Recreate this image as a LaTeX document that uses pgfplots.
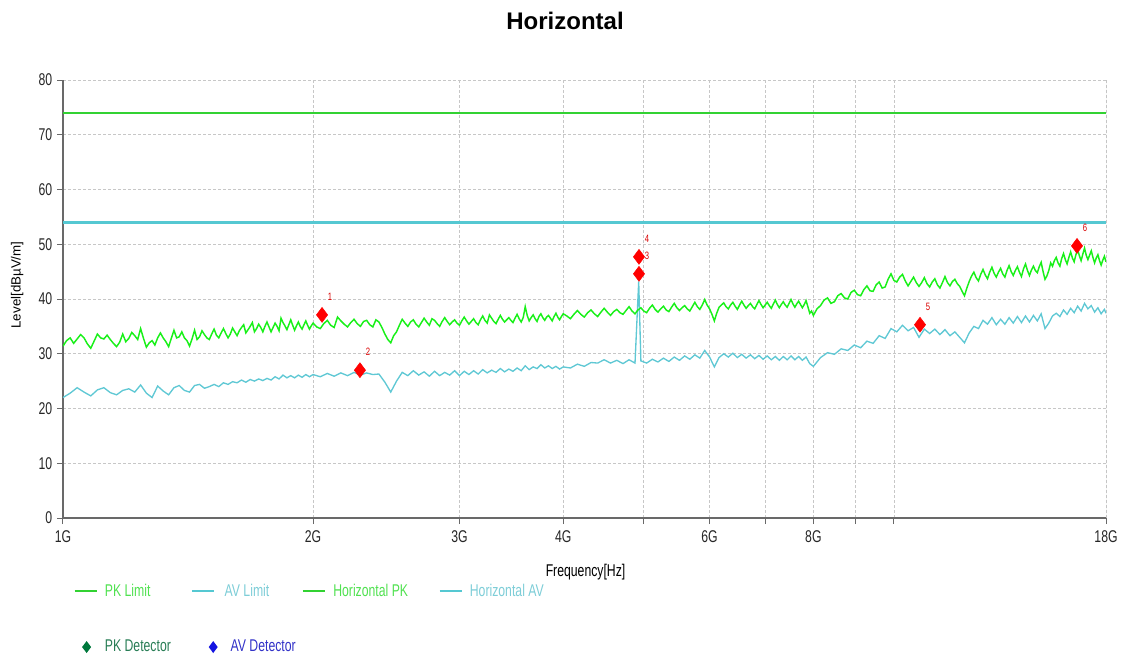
\documentclass[border=0pt]{standalone}
\usepackage{pgfplots}
\pgfplotsset{compat=1.18}
\usepackage{pgfplotstable}
\usepackage{fontspec}
\setmainfont{Liberation Sans}
\newfontfamily\narrow{Liberation Sans}[FakeStretch=0.72]
\definecolor{pklim}{RGB}{50,210,50}
\definecolor{avlim}{RGB}{85,200,210}
\definecolor{pktr}{RGB}{25,240,25}
\definecolor{avtr}{RGB}{95,200,212}
\definecolor{pktxt}{RGB}{80,225,80}
\definecolor{avtxt}{RGB}{125,205,215}
\definecolor{pkdet}{RGB}{0,120,60}
\definecolor{avdet}{RGB}{20,20,225}
\definecolor{pkdettxt}{RGB}{40,125,85}
\definecolor{avdettxt}{RGB}{50,50,200}
\definecolor{axgray}{RGB}{105,105,105}

\pgfplotstableread{
f v
1.00 31.4
1.01 32.4
1.02 32.9
1.03 31.9
1.04 32.7
1.05 33.5
1.06 32.9
1.07 31.8
1.08 31.0
1.09 32.3
1.10 33.6
1.11 32.9
1.12 32.7
1.13 33.4
1.14 32.6
1.15 31.9
1.16 31.3
1.17 32.1
1.18 33.6
1.19 32.2
1.20 32.8
1.21 33.9
1.22 33.3
1.23 32.6
1.24 34.6
1.25 32.8
1.26 31.2
1.27 32.0
1.28 32.4
1.29 31.6
1.30 32.9
1.31 33.8
1.32 32.9
1.33 32.2
1.34 31.3
1.35 32.8
1.36 34.3
1.37 32.9
1.38 33.1
1.39 34.0
1.40 32.9
1.41 32.4
1.42 31.4
1.43 32.7
1.44 34.3
1.45 32.6
1.46 33.1
1.47 34.2
1.48 33.5
1.49 32.9
1.50 32.6
1.51 33.6
1.52 34.5
1.53 33.4
1.54 32.9
1.55 33.8
1.56 34.6
1.57 33.7
1.58 32.9
1.59 33.6
1.60 34.7
1.61 34.0
1.62 33.3
1.63 34.2
1.64 34.8
1.65 35.3
1.66 33.8
1.67 34.4
1.68 35.0
1.69 35.7
1.70 34.0
1.71 34.6
1.72 35.4
1.73 34.8
1.74 34.0
1.75 35.0
1.76 35.8
1.77 34.9
1.78 34.0
1.79 34.8
1.80 35.6
1.81 35.0
1.82 34.2
1.83 36.5
1.84 35.7
1.85 35.1
1.86 34.4
1.87 35.3
1.88 36.2
1.89 35.2
1.90 34.3
1.91 35.1
1.92 35.8
1.93 35.0
1.94 34.5
1.95 35.3
1.96 36.0
1.97 35.2
1.98 34.5
1.99 35.1
2.00 35.6
2.02 34.9
2.04 34.6
2.06 35.5
2.08 36.1
2.10 35.2
2.12 34.8
2.14 36.7
2.16 36.0
2.18 35.4
2.20 34.9
2.22 35.7
2.24 36.3
2.26 35.5
2.28 35.0
2.30 35.9
2.32 36.1
2.34 35.3
2.36 34.9
2.38 36.2
2.40 35.8
2.42 34.8
2.44 33.6
2.46 32.6
2.48 32.0
2.50 33.3
2.52 34.0
2.54 35.2
2.56 36.3
2.58 35.6
2.60 35.0
2.62 35.8
2.64 36.2
2.66 35.4
2.68 34.9
2.70 35.7
2.72 36.5
2.74 35.8
2.76 35.2
2.78 36.4
2.80 36.1
2.82 35.5
2.84 35.0
2.86 35.9
2.88 36.6
2.90 35.9
2.92 35.3
2.94 35.8
2.96 36.2
2.98 35.6
3.00 35.2
3.02 36.0
3.04 36.7
3.06 36.0
3.08 35.4
3.10 35.9
3.12 36.4
3.14 35.7
3.16 35.3
3.18 36.2
3.20 36.9
3.22 36.1
3.24 35.6
3.26 37.1
3.28 36.5
3.30 35.9
3.32 35.5
3.34 36.3
3.36 37.0
3.38 36.3
3.40 35.8
3.42 36.2
3.44 36.6
3.46 36.1
3.48 35.7
3.50 36.5
3.52 37.2
3.54 36.4
3.56 35.8
3.58 36.6
3.60 38.6
3.62 37.0
3.64 36.0
3.66 36.6
3.68 37.1
3.70 36.4
3.72 35.9
3.74 36.8
3.76 37.3
3.78 36.6
3.80 36.1
3.82 36.7
3.84 37.0
3.86 36.5
3.88 36.0
3.90 36.8
3.92 37.4
3.94 36.7
3.96 36.2
3.98 36.8
4.00 37.3
4.04 36.9
4.08 36.4
4.12 37.2
4.16 37.9
4.20 37.2
4.24 36.7
4.28 37.5
4.32 38.0
4.36 37.3
4.40 36.8
4.44 37.6
4.48 38.3
4.52 37.6
4.56 37.0
4.60 37.7
4.64 38.1
4.68 37.5
4.72 37.2
4.76 37.9
4.80 38.6
4.84 37.8
4.88 37.3
4.92 38.0
4.96 38.4
5.00 37.8
5.04 37.5
5.08 38.3
5.12 38.9
5.16 38.1
5.20 37.6
5.24 38.2
5.28 38.7
5.32 38.0
5.36 37.7
5.40 38.5
5.44 39.2
5.48 38.4
5.52 37.9
5.56 38.4
5.60 38.8
5.64 38.2
5.68 37.8
5.72 38.6
5.76 39.4
5.80 38.6
5.84 38.1
5.88 38.9
5.92 39.9
5.96 38.9
6.00 38.2
6.04 37.2
6.08 36.0
6.12 37.4
6.16 38.5
6.20 38.9
6.24 39.3
6.28 38.6
6.32 38.2
6.36 38.9
6.40 39.4
6.44 38.7
6.48 38.1
6.52 38.9
6.56 39.6
6.60 38.9
6.64 38.3
6.68 38.8
6.72 39.2
6.76 38.6
6.80 38.2
6.84 39.0
6.88 39.7
6.92 39.0
6.96 38.4
7.00 38.9
7.04 39.4
7.08 38.8
7.12 38.3
7.16 39.1
7.20 39.8
7.24 39.0
7.28 38.4
7.32 39.0
7.36 39.5
7.40 38.9
7.44 38.5
7.48 39.2
7.52 39.9
7.56 39.1
7.60 38.5
7.64 39.1
7.68 39.6
7.72 39.0
7.76 38.4
7.80 39.0
7.84 39.7
7.88 38.6
7.92 37.4
7.96 37.8
8.00 37.0
8.08 38.2
8.16 38.8
8.24 39.8
8.32 40.2
8.40 39.2
8.48 39.5
8.56 40.6
8.64 41.0
8.72 40.2
8.80 40.0
8.88 41.2
8.96 41.6
9.04 40.8
9.12 40.6
9.20 41.7
9.28 42.4
9.36 41.5
9.44 41.4
9.52 42.6
9.60 43.1
9.68 42.0
9.76 42.2
9.84 43.6
9.92 44.6
10.00 43.4
10.08 43.1
10.16 44.0
10.24 44.5
10.32 43.3
10.40 42.4
10.48 43.2
10.56 44.0
10.64 43.0
10.72 42.3
10.80 43.0
10.88 43.9
10.96 42.8
11.04 42.2
11.12 43.1
11.20 43.7
11.28 42.6
11.36 42.0
11.44 43.0
11.52 44.1
11.60 43.0
11.68 42.4
11.76 43.2
11.84 43.6
11.92 42.8
12.00 42.3
12.08 41.4
12.16 40.6
12.24 42.0
12.32 43.2
12.40 44.2
12.48 44.9
12.56 43.9
12.64 43.3
12.72 44.5
12.80 45.4
12.88 44.4
12.96 43.7
13.04 44.9
13.12 45.8
13.20 44.7
13.28 44.0
13.36 44.9
13.44 45.6
13.52 44.6
13.60 44.0
13.68 45.2
13.76 46.1
13.84 45.0
13.92 44.3
14.00 45.2
14.08 45.9
14.16 44.9
14.24 44.1
14.32 45.5
14.40 46.4
14.48 45.2
14.56 44.3
14.64 45.3
14.72 46.0
14.80 45.2
14.88 44.8
14.96 45.9
15.04 46.7
15.12 45.0
15.20 43.6
15.28 44.2
15.36 45.2
15.44 46.6
15.52 46.0
15.60 47.0
15.68 47.6
15.76 46.6
15.84 46.0
15.92 47.4
16.00 48.3
16.08 47.2
16.16 46.4
16.24 47.6
16.32 48.6
16.40 47.5
16.48 46.8
16.56 48.1
16.64 49.0
16.72 47.9
16.80 47.0
16.88 48.2
16.96 49.3
17.04 48.0
17.12 47.2
17.20 48.0
17.28 48.8
17.36 47.6
17.44 46.6
17.52 47.5
17.60 48.1
17.68 47.0
17.76 46.2
17.84 47.1
17.92 47.8
18.00 46.8
}\pktable

\pgfplotstableread{
f v
1.00 22.0
1.02 22.8
1.04 23.8
1.06 23.0
1.08 22.3
1.10 23.4
1.12 23.8
1.14 22.9
1.16 22.5
1.18 23.3
1.20 23.6
1.22 23.0
1.24 24.3
1.26 22.8
1.28 22.0
1.30 24.1
1.32 23.2
1.34 22.5
1.36 23.8
1.38 24.2
1.40 23.3
1.42 23.0
1.44 24.2
1.46 24.4
1.48 23.7
1.50 24.0
1.52 24.4
1.54 24.0
1.56 24.7
1.58 24.4
1.60 24.9
1.62 24.7
1.64 25.2
1.66 24.8
1.68 25.3
1.70 25.0
1.72 25.4
1.74 25.1
1.76 25.5
1.78 25.2
1.80 25.8
1.82 25.4
1.84 26.1
1.86 25.6
1.88 26.0
1.90 25.6
1.92 26.1
1.94 25.7
1.96 26.2
1.98 25.8
2.00 26.2
2.04 25.8
2.08 26.4
2.12 25.9
2.16 26.5
2.20 26.0
2.24 26.6
2.28 26.1
2.32 26.5
2.36 26.2
2.40 26.3
2.44 24.8
2.48 23.0
2.52 25.0
2.56 26.6
2.60 26.0
2.64 26.9
2.68 26.1
2.72 26.7
2.76 25.9
2.80 26.8
2.84 26.0
2.88 26.6
2.92 26.1
2.96 26.9
3.00 26.0
3.04 26.8
3.08 26.2
3.12 26.9
3.16 26.3
3.20 27.1
3.24 26.5
3.28 27.0
3.32 26.6
3.36 27.3
3.40 26.7
3.44 27.2
3.48 26.8
3.52 27.4
3.56 26.9
3.60 27.8
3.64 27.1
3.68 27.6
3.72 27.3
3.76 28.0
3.80 27.4
3.84 27.8
3.88 27.3
3.92 27.7
3.96 27.2
4.00 27.6
4.08 27.4
4.16 28.1
4.24 27.7
4.32 28.4
4.40 28.3
4.48 28.9
4.56 28.3
4.64 28.8
4.72 28.2
4.80 28.9
4.88 28.3
4.93 43.2
4.96 28.7
5.04 28.3
5.12 29.0
5.20 28.5
5.28 29.2
5.36 28.6
5.44 29.4
5.52 28.8
5.60 29.6
5.68 29.0
5.76 29.8
5.84 29.2
5.92 30.6
6.00 29.4
6.08 27.6
6.16 29.3
6.24 30.0
6.32 29.4
6.40 30.1
6.48 29.3
6.56 29.9
6.64 29.2
6.72 29.8
6.80 29.1
6.88 29.7
6.96 29.0
7.04 29.6
7.12 28.9
7.20 29.5
7.28 28.8
7.36 29.5
7.44 28.9
7.52 29.6
7.60 28.9
7.68 29.5
7.76 28.8
7.84 29.4
7.92 28.2
8.00 27.7
8.16 29.3
8.32 30.2
8.48 29.9
8.64 30.9
8.80 30.6
8.96 31.6
9.12 31.1
9.28 32.3
9.44 31.9
9.60 33.3
9.76 32.8
9.92 34.6
10.08 34.0
10.24 35.2
10.40 34.2
10.56 34.8
10.72 33.0
10.88 34.5
11.04 33.7
11.20 34.5
11.36 33.5
11.52 34.4
11.68 33.3
11.84 34.0
12.00 33.0
12.16 32.0
12.32 33.8
12.48 35.0
12.64 34.6
12.80 36.1
12.96 35.4
13.12 36.6
13.28 35.3
13.44 36.3
13.60 35.4
13.76 36.6
13.92 35.6
14.08 36.8
14.24 35.7
14.40 36.9
14.56 35.8
14.72 37.0
14.88 36.0
15.04 37.3
15.20 34.6
15.36 35.6
15.52 36.9
15.68 37.4
15.84 36.8
16.00 38.0
16.16 37.2
16.32 38.3
16.48 37.5
16.64 38.7
16.80 37.8
16.96 39.2
17.12 38.2
17.28 38.8
17.44 37.6
17.60 38.4
17.76 37.3
17.92 38.1
18.00 37.4
}\avtable

\pgfplotstableread{
f v lab
2.05 37.1 1
2.277 27.0 2
4.934 44.6 3
4.934 47.7 4
10.75 35.3 5
16.61 49.7 6
}\marktable

\begin{document}
\begin{tikzpicture}
\path[use as bounding box] (0pt,0pt) rectangle (844.5pt,492.75pt);
\node[font=\bfseries\fontsize{18pt}{20pt}\selectfont] at (423.75pt,477pt) {Horizontal};
\begin{axis}[
  at={(47.25pt,104.25pt)}, anchor=south west,
  scale only axis, width=782.25pt, height=328.5pt,
  xmode=log,
  xmin=1, xmax=18, ymin=0, ymax=80,
  axis x line*=bottom, axis y line*=left,
  axis line style={draw=axgray, line width=1.2pt},
  xtick={1,2,3,4,5,6,7,8,9,10,18},
  xticklabels={1G,2G,3G,4G,,6G,,8G,,,18G},
  ytick={0,10,20,30,40,50,60,70,80},
  tick align=outside,
  major tick length=4.5pt,
  tick style={draw=axgray, line width=0.75pt},
  xmajorgrids, ymajorgrids,
  major grid style={draw=black!22, line width=0.6pt, dash pattern=on 2.25pt off 1.5pt},
  ticklabel style={font=\narrow\fontsize{12.75pt}{14pt}\selectfont, text=black!85},
  xticklabel style={yshift=-1.5pt},
  /pgf/number format/assume math mode=true,
  xlabel={Frequency[Hz]},
  xlabel style={font=\narrow\fontsize{12.75pt}{14pt}\selectfont, at={(axis description cs:0.501,-0.123)}, anchor=center},
  ylabel={Level[dBµV/m]},
  ylabel style={font=\fontsize{10pt}{12pt}\selectfont, at={(axis description cs:-0.044,0.532)}, anchor=center},
  clip=true,
  legend columns=4,
  legend cell align=left,
  legend style={draw=none, fill=none, at={(axis description cs:0.0058,-0.1437)}, anchor=north west,
     font=\narrow\fontsize{12.75pt}{14pt}\selectfont,
     nodes={inner sep=0pt}, row sep=31.5pt, column sep=0pt},
]
\addplot[draw=pklim, line width=1.95pt, forget plot] coordinates {(1,74) (18,74)};
\addplot[draw=avlim, line width=1.95pt, forget plot] coordinates {(1,54) (18,54)};
\addplot[draw=avtr, line width=1.0pt, forget plot] table[x=f,y=v] {\avtable};
\addplot[draw=pktr, line width=1.1pt, forget plot] table[x=f,y=v] {\pktable};
\addplot[only marks, mark=diamond*, mark size=5.6pt, color=red, forget plot,
   nodes near coords, point meta=explicit symbolic,
   every node near coord/.style={anchor=center, xshift=6pt, yshift=13.5pt, text=red!85!black,
      font=\narrow\fontsize{8pt}{9pt}\selectfont}]
   table[x=f,y=v,meta=lab] {\marktable};
\draw[draw=black!25, line width=0.75pt] (rel axis cs:1,0) -- (rel axis cs:1,1);
\addlegendimage{legend image code/.code={\draw[draw=pklim, line width=1.95pt] (0pt,0pt) -- (16.5pt,0pt);}}
\addlegendentry{\hspace{5.25pt}\makebox[64.5pt][l]{\textcolor{pktxt}{PK Limit}}}
\addlegendimage{legend image code/.code={\draw[draw=avlim, line width=1.95pt] (0pt,0pt) -- (16.5pt,0pt);}}
\addlegendentry{\hspace{5.25pt}\makebox[57.75pt][l]{\textcolor{avtxt}{AV Limit}}}
\addlegendimage{legend image code/.code={\draw[draw=pklim, line width=1.95pt] (0pt,0pt) -- (16.5pt,0pt);}}
\addlegendentry{\hspace{5.25pt}\makebox[78.75pt][l]{\textcolor{pktxt}{Horizontal PK}}}
\addlegendimage{legend image code/.code={\draw[draw=avlim, line width=1.95pt] (0pt,0pt) -- (16.5pt,0pt);}}
\addlegendentry{\hspace{5.25pt}\makebox[60pt][l]{\textcolor{avtxt}{Horizontal AV}}}
\addlegendimage{legend image code/.code={\path[draw=none] (0pt,0pt) -- (16.5pt,0pt); \fill[pkdet, draw=none] (9pt,-4.5pt) -- (12.4pt,0pt) -- (9pt,4.5pt) -- (5.6pt,0pt) -- cycle;}}
\addlegendentry{\hspace{5.25pt}\makebox[64.5pt][l]{\textcolor{pkdettxt}{PK Detector}}}
\addlegendimage{legend image code/.code={\path[draw=none] (0pt,0pt) -- (16.5pt,0pt); \fill[avdet, draw=none] (15.75pt,-4.5pt) -- (19.1pt,0pt) -- (15.75pt,4.5pt) -- (12.4pt,0pt) -- cycle;}}
\addlegendentry{\hspace{9.75pt}\makebox[53.25pt][l]{\textcolor{avdettxt}{AV Detector}}}
\end{axis}
\end{tikzpicture}
\end{document}
